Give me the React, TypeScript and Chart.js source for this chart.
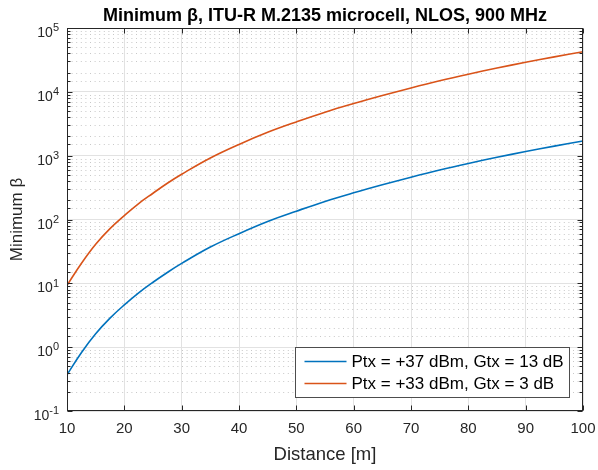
import React, { useEffect, useRef } from 'react';
import { Chart, registerables } from 'chart.js';

Chart.register(...registerables);

// ---- data ----
const distanceM = [10, 12.5, 15, 17.5, 20, 22.5, 25, 27.5, 30, 35, 40, 45, 50, 55, 60, 65, 70, 75, 80, 85, 90, 95, 100];
const betaPtx37 = [0.37, 0.82, 1.62, 2.85, 4.6, 7.1, 10.4, 14.8, 20.5, 37, 60, 93, 135, 192, 262, 350, 460, 596, 756, 944, 1160, 1410, 1700];
const betaPtx33 = [9.3, 20.5, 41, 72, 115, 178, 258, 370, 512, 920, 1500, 2320, 3380, 4800, 6550, 8750, 11500, 14900, 18900, 23600, 29000, 35300, 42500];

const seriesLabels = ['Ptx = +37 dBm, Gtx = 13 dB', 'Ptx = +33 dBm, Gtx = 3 dB'];
const seriesColors = ['#0072BD', '#D95319'];

const xTickValues = [10, 20, 30, 40, 50, 60, 70, 80, 90, 100];
const yDecades = [0.1, 1, 10, 100, 1000, 10000, 100000];
const yTickBase = '10';
const yTickExponents = ['-1', '0', '1', '2', '3', '4', '5'];

const titleText = 'Minimum β, ITU-R M.2135 microcell, NLOS, 900 MHz';
const xTitle = 'Distance [m]';
const yTitle = 'Minimum β';

const FONT = '"Liberation Sans", Arial, Helvetica, sans-serif';
const AXIS_COLOR = '#262626';
const GRID_COLOR = '#e2e2e2';
const MINOR_GRID_COLOR = '#c8c8c8';

function isDecade(v: number): boolean {
  const l = Math.log10(v);
  return Math.abs(l - Math.round(l)) < 1e-6;
}

const minorGridPlugin = {
  id: 'minorGrid',
  beforeDatasetsDraw(chart: any) {
    const { ctx, chartArea } = chart;
    const y = chart.scales.y;
    ctx.save();
    ctx.strokeStyle = MINOR_GRID_COLOR;
    ctx.lineWidth = 1;
    ctx.setLineDash([1, 3.6]);
    for (const t of y.ticks) {
      if (isDecade(t.value)) continue;
      const py = Math.round(y.getPixelForValue(t.value)) + 0.5;
      ctx.beginPath();
      ctx.moveTo(chartArea.left, py);
      ctx.lineTo(chartArea.right, py);
      ctx.stroke();
    }
    ctx.restore();
  },
};

// y tick labels as "10" with a raised exponent, placed at the scale's decade pixels
const yLabelPlugin = {
  id: 'yDecadeLabels',
  afterDraw(chart: any) {
    const { ctx, chartArea } = chart;
    const ys = chart.scales.y;
    const rightEdge = Math.round(chartArea.left) - 8;
    ctx.save();
    ctx.fillStyle = AXIS_COLOR;
    ctx.textBaseline = 'alphabetic';
    ctx.textAlign = 'left';
    yDecades.forEach((d, i) => {
      const py = ys.getPixelForValue(d);
      const exp = yTickExponents[i];
      ctx.font = `11px ${FONT}`;
      const we = ctx.measureText(exp).width;
      ctx.font = `14px ${FONT}`;
      const wb = ctx.measureText(yTickBase).width;
      const x0 = rightEdge - we - wb;
      ctx.fillText(yTickBase, x0, py + 9);
      ctx.font = `11px ${FONT}`;
      ctx.fillText(exp, x0 + wb, py + 3.3);
    });
    ctx.restore();
  },
};

const boxPlugin = {
  id: 'matlabBox',
  afterDatasetsDraw(chart: any) {
    const { ctx, chartArea } = chart;
    const xs = chart.scales.x;
    const ys = chart.scales.y;
    const L = Math.round(chartArea.left) + 0.5;
    const R = Math.round(chartArea.right) - 0.5;
    const T = Math.round(chartArea.top) + 0.5;
    const B = Math.round(chartArea.bottom) - 0.5;
    ctx.save();
    ctx.strokeStyle = AXIS_COLOR;
    ctx.lineWidth = 1;
    ctx.setLineDash([]);
    ctx.beginPath();
    for (const t of xs.ticks) {
      const px = Math.round(xs.getPixelForValue(t.value)) + 0.5;
      ctx.moveTo(px, B);
      ctx.lineTo(px, B - 5);
      ctx.moveTo(px, T);
      ctx.lineTo(px, T + 5);
    }
    for (const t of ys.ticks) {
      const len = isDecade(t.value) ? 5 : 3;
      const py = Math.round(ys.getPixelForValue(t.value)) + 0.5;
      ctx.moveTo(L, py);
      ctx.lineTo(L + len, py);
      ctx.moveTo(R, py);
      ctx.lineTo(R - len, py);
    }
    ctx.stroke();
    ctx.strokeRect(L, T, R - L, B - T);

    // legend (bottom-right, inside the axes)
    ctx.font = `17px ${FONT}`;
    const textW = Math.max(...seriesLabels.map((s) => ctx.measureText(s).width));
    const lineLen = 42;
    const boxW = Math.round(9 + lineLen + 5 + textW + 6);
    const boxH = 50;
    const bx = Math.round(chartArea.right - 14 - boxW) + 0.5;
    const by = Math.round(chartArea.bottom - 14 - boxH) + 0.5;
    ctx.fillStyle = '#ffffff';
    ctx.fillRect(bx, by, boxW, boxH);
    ctx.strokeStyle = '#4d4d4d';
    ctx.strokeRect(bx, by, boxW, boxH);
    const rows = [by + 14, by + 36];
    chart.data.datasets.forEach((ds: any, i: number) => {
      const ry = rows[i];
      ctx.strokeStyle = ds.borderColor;
      ctx.lineWidth = 1.6;
      ctx.beginPath();
      ctx.moveTo(bx + 9, ry);
      ctx.lineTo(bx + 9 + lineLen, ry);
      ctx.stroke();
      ctx.fillStyle = '#000000';
      ctx.textBaseline = 'middle';
      ctx.textAlign = 'left';
      ctx.fillText(ds.label, bx + 9 + lineLen + 5, ry + 1);
    });
    ctx.restore();
  },
};

export default function App() {
  const canvasRef = useRef<HTMLCanvasElement | null>(null);

  useEffect(() => {
    const canvas = canvasRef.current;
    if (!canvas) return;
    const chart = new Chart(canvas, {
      type: 'line',
      data: {
        datasets: [
          {
            label: seriesLabels[0],
            data: distanceM.map((d, i) => ({ x: d, y: betaPtx37[i] })),
            borderColor: seriesColors[0],
            backgroundColor: seriesColors[0],
            borderWidth: 1.6,
            pointRadius: 0,
            tension: 0.4,
          },
          {
            label: seriesLabels[1],
            data: distanceM.map((d, i) => ({ x: d, y: betaPtx33[i] })),
            borderColor: seriesColors[1],
            backgroundColor: seriesColors[1],
            borderWidth: 1.6,
            pointRadius: 0,
            tension: 0.4,
          },
        ],
      },
      options: {
        responsive: false,
        maintainAspectRatio: false,
        animation: false,
        devicePixelRatio: 1,
        events: [],
        layout: { padding: { left: 0, right: 15, top: 0, bottom: 0 } },
        plugins: {
          legend: { display: false },
          tooltip: { enabled: false },
          title: {
            display: true,
            text: titleText,
            fullSize: false,
            color: '#000000',
            font: { family: FONT, size: 18, weight: 'bold', lineHeight: 1.2 },
            padding: { top: 5, bottom: 1.4 },
          },
        },
        scales: {
          x: {
            type: 'linear',
            min: 10,
            max: 100,
            afterBuildTicks: (scale: any) => {
              scale.ticks = xTickValues.map((v) => ({ value: v }));
            },
            afterFit: (scale: any) => {
              scale.height = 59;
              scale.paddingLeft = 0;
              scale.paddingRight = 0;
            },
            ticks: {
              autoSkip: false,
              maxRotation: 0,
              padding: 9,
              color: AXIS_COLOR,
              font: { family: FONT, size: 15 },
            },
            grid: { color: GRID_COLOR, lineWidth: 1, drawTicks: false },
            border: { display: false },
            title: {
              display: true,
              text: xTitle,
              color: AXIS_COLOR,
              font: { family: FONT, size: 18.5, lineHeight: 1.2 },
              padding: { top: 0, bottom: 4 },
            },
          },
          y: {
            type: 'logarithmic',
            min: 0.1,
            max: 100000,
            afterFit: (scale: any) => {
              scale.width = 67;
              scale.paddingTop = 0;
              scale.paddingBottom = 0;
            },
            ticks: {
              display: false,
              autoSkip: false,
            },
            grid: {
              drawTicks: false,
              lineWidth: 1,
              color: (c: any) => (c.tick && isDecade(c.tick.value) ? GRID_COLOR : 'rgba(0,0,0,0)'),
            },
            border: { display: false },
            title: {
              display: true,
              text: yTitle,
              color: AXIS_COLOR,
              font: { family: FONT, size: 17, lineHeight: 1.2 },
              padding: { top: 7, bottom: 0 },
            },
          },
        },
      },
      plugins: [minorGridPlugin, boxPlugin, yLabelPlugin],
    } as any);
    return () => chart.destroy();
  }, []);

  return (
    <div style={{ position: 'fixed', left: 0, top: 0, width: 598, height: 470, background: '#ffffff' }}>
      <canvas ref={canvasRef} width={598} height={470} style={{ display: 'block', width: 598, height: 470 }} />
    </div>
  );
}
